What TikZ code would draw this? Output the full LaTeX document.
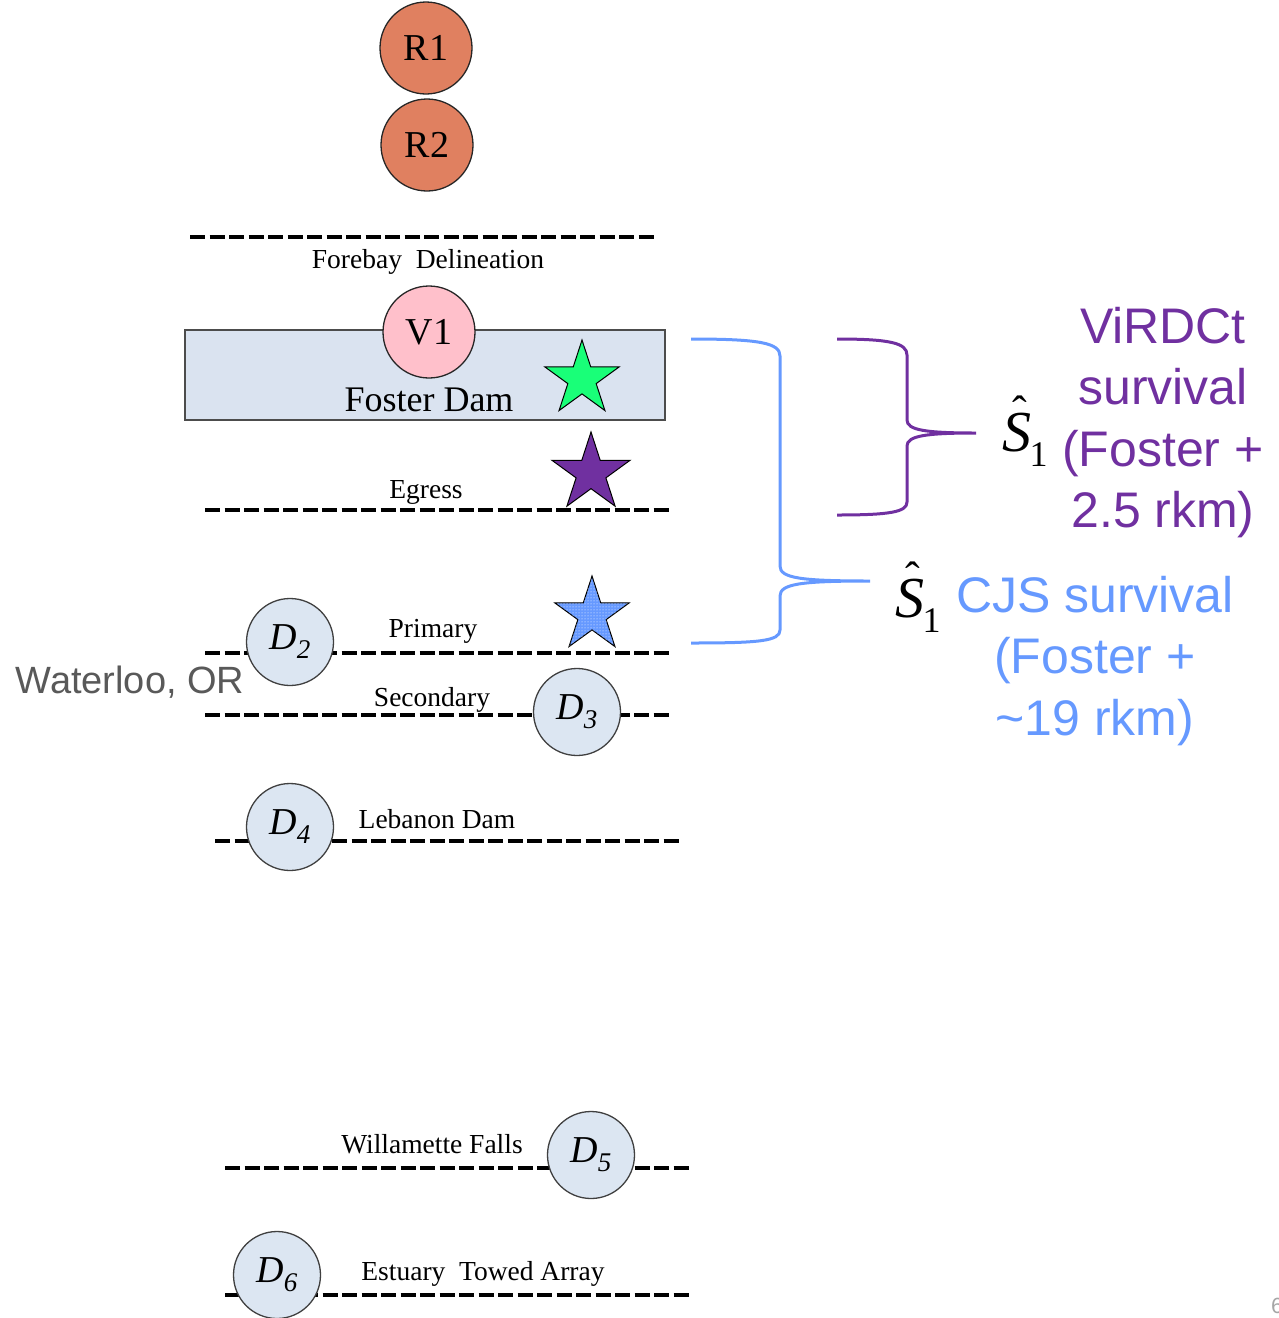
\documentclass[tikz,border=0pt]{standalone}
\usepackage{fontspec}
\setmainfont{Liberation Serif}
\newfontfamily\arial{Liberation Sans}
\usetikzlibrary{shapes.geometric,patterns}
\definecolor{rcol}{RGB}{224,128,96}
\definecolor{vcol}{RGB}{255,192,203}
\definecolor{dcol}{RGB}{220,230,242}
\definecolor{damcol}{RGB}{218,227,240}
\definecolor{purp}{RGB}{112,48,160}
\definecolor{cjsblue}{RGB}{102,153,255}
\definecolor{wgray}{RGB}{89,89,89}
\definecolor{sgreen}{RGB}{25,255,120}
\tikzset{
  rnode/.style={circle, draw=black!85, line width=1.3pt, fill=rcol, minimum size=92pt, inner sep=0pt, font=\fontsize{38}{40}\selectfont},
  dnode/.style={circle, draw=black!75, line width=1.3pt, fill=dcol, minimum size=87pt, inner sep=0pt, font=\fontsize{38}{40}\selectfont\itshape},
  dline/.style={line width=4.5pt, dash pattern=on 15pt off 4.5pt},
  lbl/.style={font=\fontsize{27.5}{30}\selectfont, inner sep=0pt, anchor=base},
  starnode/.style={star, star points=5, star point ratio=2.618, inner sep=0pt, draw=black, line width=1pt},
  brace/.style={line width=3pt},
  shat/.style={inner sep=0pt, anchor=base, font=\fontsize{58}{60}\selectfont\itshape},
  bigtxt/.style={inner sep=0pt, anchor=north, align=center, font=\arial\fontsize{50}{61.5}\selectfont}
}
\newcommand{\dsub}[2]{#1\raisebox{-9pt}{\fontsize{27}{27}\selectfont #2}}
\newcommand{\shatone}{\rlap{\hspace{10pt}\raisebox{25pt}{\upshape\fontsize{44}{44}\selectfont ˆ}}S\kern-2pt\raisebox{-15pt}{\fontsize{36}{36}\selectfont\upshape 1}}
\begin{document}
\begin{tikzpicture}[x=1pt,y=-1pt]
\useasboundingbox (0,0) rectangle (1279,1318);

% release circles
\node[rnode] (r1) at (426,48) {R1};
\node[rnode] (r2) at (427,145) {R2};

% forebay
\coordinate (fbL) at (190,237); \coordinate (fbR) at (657,237);
\draw[dline] (fbL) -- (fbR);
\node[lbl] (fbt) at (428,268) {Forebay\ \ Delineation};

% Foster dam
\node[draw=black!70, line width=1.5pt, fill=damcol, minimum width=480pt, minimum height=90pt, inner sep=0pt] (dam) at (425,375) {};
\node[inner sep=0pt, anchor=base, font=\fontsize{36}{40}\selectfont] (damt) at (429,411) {Foster Dam};
\node[circle, draw=black!85, line width=1.3pt, fill=vcol, minimum size=92pt, inner sep=0pt, font=\fontsize{38}{40}\selectfont] (v1) at (429,332) {V1};
\node[starnode, fill=sgreen, minimum size=78pt] (gstar) at (582,379) {};

% egress
\coordinate (egL) at (205,510); \coordinate (egR) at (672,510);
\draw[dline] (egL) -- (egR);
\node[lbl] (egt) at (426,498) {Egress};
\node[starnode, fill=purp, minimum size=82pt] (pstar) at (591,473) {};

% primary
\coordinate (prL) at (205,653); \coordinate (prR) at (672,653);
\draw[dline] (prL) -- (prR);
\node[lbl] (prt) at (433,637) {Primary};
\node[starnode, fill=cjsblue, minimum size=78pt, postaction={pattern=dots, pattern color=white}] (bstar) at (592,615) {};
\node[dnode] (d2) at (290,642) {\dsub{D}{2}};

% secondary
\coordinate (seL) at (205,715); \coordinate (seR) at (672,715);
\draw[dline] (seL) -- (seR);
\node[lbl] (set) at (432,706) {Secondary};
\node[dnode] (d3) at (577,712) {\dsub{D}{3}};

% Waterloo
\node[inner sep=0pt, anchor=base, font=\arial\fontsize{38}{40}\selectfont, text=wgray] (wat) at (130,693) {Waterloo, OR};

% lebanon
\coordinate (lbL) at (215,841); \coordinate (lbR) at (682,841);
\draw[dline] (lbL) -- (lbR);
\node[lbl] (lbt) at (437,828) {Lebanon Dam};
\node[dnode] (d4) at (290,827) {\dsub{D}{4}};

% willamette
\coordinate (wfL) at (225,1168); \coordinate (wfR) at (692,1168);
\draw[dline] (wfL) -- (wfR);
\node[lbl] (wft) at (432,1153) {Willamette\ Falls};
\node[dnode] (d5) at (591,1155) {\dsub{D}{5}};

% estuary
\coordinate (esL) at (225,1295); \coordinate (esR) at (692,1295);
\draw[dline] (esL) -- (esR);
\node[lbl] (est) at (483,1280) {Estuary\ \ Towed\ Array};
\node[dnode] (d6) at (277,1275) {\dsub{D}{6}};

% blue brace
\coordinate (bbT) at (691,339); \coordinate (bbB) at (691,643); \coordinate (bbTip) at (870,581);
\draw[brace, cjsblue] (bbT) .. controls (760,339) and (780,343) .. (780,356) -- (780,566)
  .. controls (780,578) and (800,581) .. (bbTip)
  .. controls (800,581) and (780,584) .. (780,596) -- (780,630)
  .. controls (780,641) and (760,643) .. (bbB);

% purple brace
\coordinate (pbT) at (837,339); \coordinate (pbB) at (837,515); \coordinate (pbTip) at (976,433);
\draw[brace, purp] (pbT) .. controls (890,339) and (907,343) .. (907,355) -- (907,420)
  .. controls (907,430) and (925,433) .. (pbTip)
  .. controls (925,433) and (907,436) .. (907,446) -- (907,502)
  .. controls (907,512) and (890,515) .. (pbB);

% estimators
\node[shat] (s1a) at (1025,451) {\shatone};
\node[shat] (s1b) at (918,617) {\shatone};

\node[bigtxt, text=purp] (virt) at (1163,307) {ViRDCt\\survival\\(Foster +\\2.5 rkm)};
\node[bigtxt, text=cjsblue] (cjst) at (1095,576) {CJS survival\\(Foster +\\\textasciitilde19 rkm)};

% page number (cut off at the edge, as in the reference)
\node[inner sep=0pt, anchor=base west, font=\arial\fontsize{22}{24}\selectfont, text=black!35] (pg) at (1271,1313) {6};
\end{tikzpicture}
\end{document}
